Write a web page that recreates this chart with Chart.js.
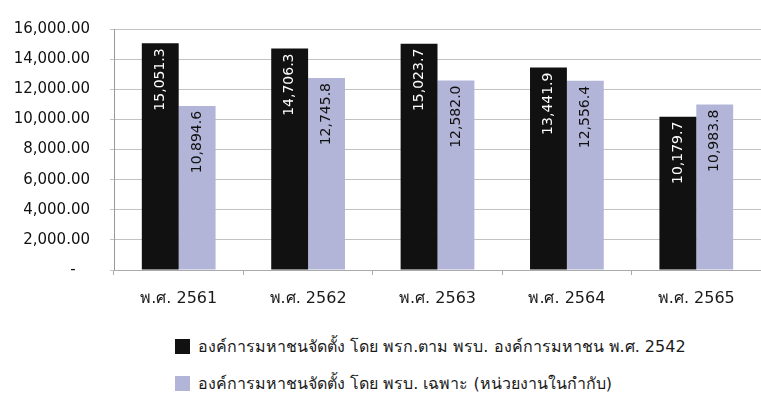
<!DOCTYPE html>
<html>
<head>
<meta charset="utf-8">
<script src="https://cdn.jsdelivr.net/npm/chart.js@4"></script>
<style>
  body { margin: 0; background: #fff; font-family: 'DejaVu Sans', sans-serif; }
  #wrap { position: relative; width: 761px; height: 320px; }
  .leg { position: absolute; left: 175px; font-size: 16px; color: #1a1a1a; white-space: nowrap; display: flex; align-items: center; }
  .leg i { display: inline-block; width: 15px; height: 15px; margin-right: 8px; }
</style>
</head>
<body>
<div id="wrap"><canvas id="budgetChart"></canvas></div>
<div class="leg" id="leg0" style="top:334px"></div>
<div class="leg" id="leg1" style="top:371px"></div>
<script>
const years = ['พ.ศ. 2561', 'พ.ศ. 2562', 'พ.ศ. 2563', 'พ.ศ. 2564', 'พ.ศ. 2565'];
const decreeData = [15051.3, 14706.3, 15023.7, 13441.9, 10179.7];
const specificActData = [10894.6, 12745.8, 12582.0, 12556.4, 10983.8];
const seriesNames = [
    'องค์การมหาชนจัดตั้ง โดย พรก.ตาม พรบ. องค์การมหาชน พ.ศ. 2542',
    'องค์การมหาชนจัดตั้ง โดย พรบ. เฉพาะ (หน่วยงานในกำกับ)'
];
const seriesColors = ['#111111', '#b3b5d8'];
const labelColors = ['#ffffff', '#111111'];

// rotated value labels inside the top of each bar
const barLabels = {
    id: 'barLabels',
    afterDatasetsDraw(chart) {
        const ctx = chart.ctx;
        chart.data.datasets.forEach((ds, i) => {
            chart.getDatasetMeta(i).data.forEach((bar, j) => {
                const txt = ds.data[j].toLocaleString('en-US', { minimumFractionDigits: 1, maximumFractionDigits: 1 });
                ctx.save();
                ctx.translate(bar.x, bar.y + 5);
                ctx.rotate(-Math.PI / 2);
                ctx.font = '14px "DejaVu Sans"';
                ctx.fillStyle = labelColors[i];
                ctx.textAlign = 'right';
                ctx.textBaseline = 'middle';
                ctx.fillText(txt, 0, 0);
                ctx.restore();
            });
        });
    }
};

const ctx = document.getElementById('budgetChart').getContext('2d');
const budgetChart = new Chart(ctx, {
    type: 'bar',
    data: {
        labels: years,
        datasets: [
            {
                label: seriesNames[0],
                data: decreeData,
                backgroundColor: seriesColors[0],
                categoryPercentage: 0.57,
                barPercentage: 1.0
            },
            {
                label: seriesNames[1],
                data: specificActData,
                backgroundColor: seriesColors[1],
                categoryPercentage: 0.57,
                barPercentage: 1.0
            }
        ]
    },
    options: {
        responsive: true,
        maintainAspectRatio: false,
        animation: false,
        layout: { padding: { top: 19, right: 0, left: 0, bottom: 0 } },
        scales: {
            y: {
                min: 0,
                max: 16000,
                ticks: {
                    stepSize: 2000,
                    color: '#111',
                    padding: 20,
                    font: { family: 'DejaVu Sans', size: 15 },
                    callback: (v) => v === 0 ? '-   ' : v.toLocaleString('en-US', { minimumFractionDigits: 2 })
                },
                grid: { color: '#c2c2c2', tickLength: 4 },
                border: { color: '#999' },
                afterFit: (s) => { s.width = 114; }
            },
            x: {
                ticks: {
                    color: '#1a1a1a',
                    padding: 14,
                    font: { family: 'DejaVu Sans', size: 16 }
                },
                grid: { drawOnChartArea: false, offset: true, tickLength: 5, color: '#aaa' },
                border: { color: '#aaa' },
                afterFit: (s) => { s.height = 50; }
            }
        },
        plugins: {
            legend: { display: false },
            tooltip: { enabled: false }
        }
    },
    plugins: [barLabels]
});

// html legend below the chart
seriesNames.forEach((name, i) => {
    const el = document.getElementById('leg' + i);
    el.innerHTML = '<i style="background:' + seriesColors[i] + '"></i>' + name;
});
</script>
</body>
</html>
